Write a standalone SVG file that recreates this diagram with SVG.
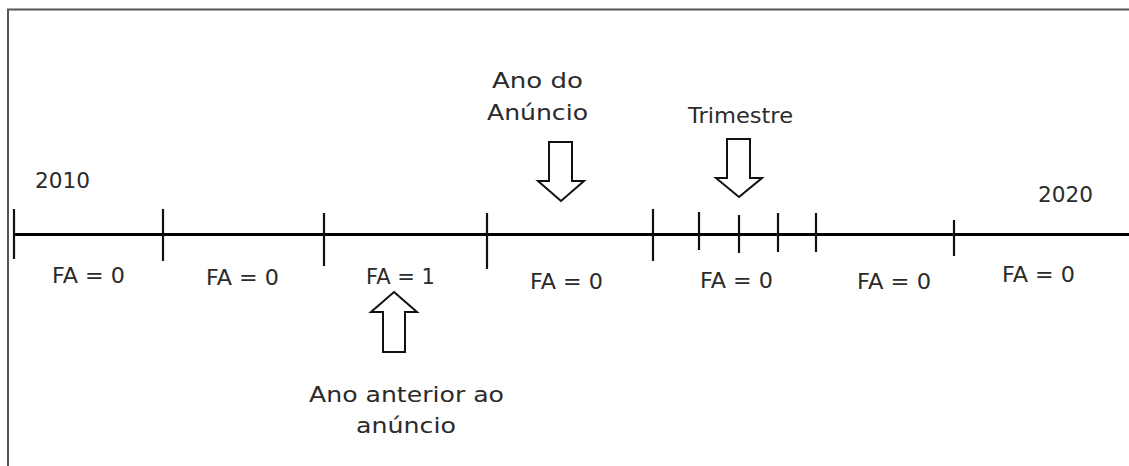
<svg xmlns="http://www.w3.org/2000/svg" width="1129" height="466" viewBox="0 0 1129 466">
<style>
.t{font-family:"DejaVu Sans",sans-serif;font-size:21px;fill:#2b2b2b}
.tick{stroke:#111;stroke-width:2.2}
.arrow{fill:#fff;stroke:#111;stroke-width:2;stroke-linejoin:miter}
</style>
<rect width="1129" height="466" fill="#fff"/>
<g id="frame" fill="none" stroke="#555" stroke-width="2">
<path d="M8 466 V9.5 H1129"/>
</g>
<g id="connectors">
<line x1="14" y1="234.5" x2="1129" y2="234.5" stroke="#000" stroke-width="3.2"/>
<line class="tick" x1="14" y1="209" x2="14" y2="259"/>
<line class="tick" x1="163" y1="209" x2="163" y2="261"/>
<line class="tick" x1="324" y1="213" x2="324" y2="266"/>
<line class="tick" x1="487" y1="213" x2="487" y2="269"/>
<line class="tick" x1="653" y1="209" x2="653" y2="261"/>
<line class="tick" x1="699" y1="212" x2="699" y2="250"/>
<line class="tick" x1="739" y1="215" x2="739" y2="253"/>
<line class="tick" x1="778" y1="213" x2="778" y2="252"/>
<line class="tick" x1="816" y1="213" x2="816" y2="252"/>
<line class="tick" x1="954" y1="220" x2="954" y2="256"/>
</g>
<g id="arrow-anterior"><path class="arrow" d="M394 292 L417 312 L405 312 L405 352 L383 352 L383 312 L371 312 Z"/></g>
<g id="arrow-anuncio"><path class="arrow" d="M549 142 L572 142 L572 181 L584 181 L561 201 L538 181 L549 181 Z"/></g>
<g id="arrow-trimestre"><path class="arrow" d="M727 139 L750 139 L750 178 L762 178 L739 197 L716 178 L727 178 Z"/></g>
<g id="labels">
<text class="t" x="35" y="188" textLength="55" lengthAdjust="spacingAndGlyphs">2010</text>
<text class="t" x="1038" y="202" textLength="55" lengthAdjust="spacingAndGlyphs">2020</text>
<text class="t" x="52" y="283" textLength="73" lengthAdjust="spacingAndGlyphs">FA = 0</text>
<text class="t" x="206" y="285" textLength="73" lengthAdjust="spacingAndGlyphs">FA = 0</text>
<text class="t" x="366" y="284" textLength="69" lengthAdjust="spacingAndGlyphs">FA = 1</text>
<text class="t" x="530" y="289" textLength="73" lengthAdjust="spacingAndGlyphs">FA = 0</text>
<text class="t" x="700" y="288" textLength="73" lengthAdjust="spacingAndGlyphs">FA = 0</text>
<text class="t" x="857" y="289" textLength="74" lengthAdjust="spacingAndGlyphs">FA = 0</text>
<text class="t" x="1002" y="282" textLength="73" lengthAdjust="spacingAndGlyphs">FA = 0</text>
<text class="t" x="492" y="88" textLength="91" lengthAdjust="spacingAndGlyphs">Ano do</text>
<text class="t" x="487" y="120" textLength="101" lengthAdjust="spacingAndGlyphs">Anúncio</text>
<text class="t" x="688" y="123" textLength="105" lengthAdjust="spacingAndGlyphs">Trimestre</text>
<text class="t" x="309" y="402" textLength="195" lengthAdjust="spacingAndGlyphs">Ano anterior ao</text>
<text class="t" x="356" y="433" textLength="100" lengthAdjust="spacingAndGlyphs">anúncio</text>
</g>
</svg>
